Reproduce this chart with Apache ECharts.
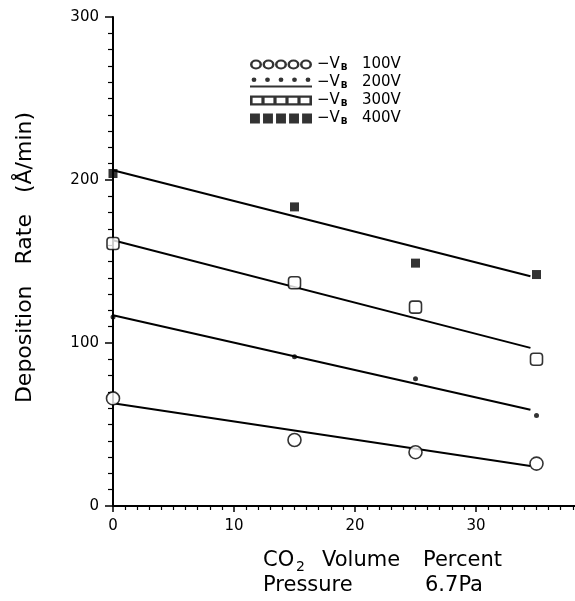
<!DOCTYPE html>
<html>
<head>
<meta charset="utf-8">
<script src="https://cdn.jsdelivr.net/npm/echarts@6/dist/echarts.min.js"></script>
<style>
  html, body { margin: 0; padding: 0; background: #fff; }
  #chart { width: 575px; height: 601px; }
</style>
</head>
<body>
<div id="chart"></div>
<script>
// CO2 volume percent where points were measured
var co2Pct = [0, 15, 25, 35];
// deposition rate (A/min) per bias voltage
var rate100 = [66, 40.5, 33, 26];
var rate200 = [116, 91.5, 78, 55.5];
var rate300 = [161, 137, 122, 90];
var rate400 = [204, 183.5, 149, 142];
// straight fitted lines, start and end
var fitX = [0, 34.5];
var fit100 = [63, 24.5];
var fit200 = [117, 59];
var fit300 = [163, 97];
var fit400 = [206, 141];
var seriesNames = ['100V', '200V', '300V', '400V'];

function pairs(xs, ys) {
    return xs.map(function(x, i) { return [x, ys[i]]; });
}

function circ(cx, cy, r, sweep) {
    return 'M' + (cx + r) + ' ' + cy + 'A' + r + ' ' + r + ' 0 1 ' + sweep + ' ' + (cx - r) + ' ' + cy +
        'A' + r + ' ' + r + ' 0 1 ' + sweep + ' ' + (cx + r) + ' ' + cy + 'Z';
}
// legend icons: five marks in a row, like the original key
function ringsPath() {
    var p = '';
    for (var i = 0; i < 5; i++) {
        var cx = 6 + i * 12.5;
        p += circ(cx, 6, 6, 1) + circ(cx, 6, 3.5, 0);
    }
    return 'path://' + p;
}
function dotsPath() {
    var p = '';
    for (var i = 0; i < 5; i++) {
        p += circ(4 + i * 13.5, 4, 2.4, 1);
    }
    p += 'M0 10L62 10L62 12L0 12Z';
    return 'path://' + p;
}
function squaresPath() {
    var p = '';
    for (var i = 0; i < 5; i++) {
        var x0 = i * 12;
        p += 'M' + x0 + ' 0L' + (x0 + 14) + ' 0L' + (x0 + 14) + ' 12L' + x0 + ' 12Z';
        p += 'M' + (x0 + 2.6) + ' 2.6L' + (x0 + 2.6) + ' 9.4L' + (x0 + 11.4) + ' 9.4L' + (x0 + 11.4) + ' 2.6Z';
    }
    return 'path://' + p;
}
function blocksPath() {
    var p = '';
    for (var i = 0; i < 5; i++) {
        var x0 = i * 12.6;
        p += 'M' + x0 + ' 0L' + (x0 + 9.6) + ' 0L' + (x0 + 9.6) + ' 12L' + x0 + ' 12Z';
    }
    return 'path://' + p;
}

var fontFam = 'DejaVu Sans';
var chart = echarts.init(document.getElementById('chart'));

var pointStyle = { color: '#fff', borderColor: '#000', borderWidth: 1.6 };
var lineStyle = { color: '#000', width: 2 };

function label(txt, x, y, size) {
    return {
        type: 'text', x: x, y: y,
        style: { text: txt, fontFamily: fontFam, fontSize: size, fill: '#000', verticalAlign: 'middle' }
    };
}

chart.setOption({
    backgroundColor: '#fff',
    animation: false,
    // axis runs on past the right edge, as in the scan
    grid: { left: 113, top: 17, width: 484, height: 489, outerBoundsMode: 'none', containLabel: false },
    legend: {
        orient: 'vertical',
        left: 245,
        top: 52,
        itemWidth: 62,
        itemHeight: 10,
        itemGap: 3,
        symbolKeepAspect: false,
        selectedMode: false,
        itemStyle: { color: '#000', borderWidth: 0 },
        data: [
            { name: '100V', icon: ringsPath() },
            { name: '200V', icon: dotsPath() },
            { name: '300V', icon: squaresPath() },
            { name: '400V', icon: blocksPath() }
        ],
        formatter: function(name) {
            return '{n|−V}{s|B}{n|   ' + name + '}';
        },
        textStyle: {
            fontFamily: fontFam,
            color: '#000',
            rich: {
                n: { fontFamily: fontFam, fontSize: 15, color: '#000', lineHeight: 15 },
                s: { fontFamily: fontFam, fontSize: 9, fontWeight: 'bold', color: '#000', lineHeight: 9, verticalAlign: 'bottom', padding: [0, 0, 0, 1] }
            }
        }
    },
    xAxis: {
        type: 'value',
        min: 0,
        max: 40,
        interval: 10,
        axisLine: { show: true, onZero: false, lineStyle: { color: '#000', width: 2 } },
        axisTick: { show: true, length: 6, lineStyle: { color: '#000', width: 1.5 } },
        minorTick: { show: true, splitNumber: 10, length: 4, lineStyle: { color: '#000', width: 1.2 } },
        splitLine: { show: false },
        axisLabel: { color: '#000', fontFamily: fontFam, fontSize: 15, margin: 13 }
    },
    yAxis: {
        type: 'value',
        min: 0,
        max: 300,
        interval: 100,
        name: 'Deposition   Rate   (Å/min)',
        nameLocation: 'middle',
        nameRotate: 90,
        nameGap: 77,
        nameTextStyle: { color: '#000', fontFamily: fontFam, fontSize: 22, padding: [0, 0, 0, 8] },
        axisLine: { show: true, lineStyle: { color: '#000', width: 2 } },
        axisTick: { show: true, length: 8, lineStyle: { color: '#000', width: 1.5 } },
        minorTick: { show: true, splitNumber: 10, length: 5, lineStyle: { color: '#000', width: 1.2 } },
        splitLine: { show: false },
        axisLabel: { color: '#000', fontFamily: fontFam, fontSize: 15, margin: 14 }
    },
    graphic: [
        label('CO', 263, 561, 21),
        label('2', 296, 567, 14),
        label('Volume', 322, 561, 21),
        label('Percent', 423, 561, 21),
        label('Pressure', 263, 586, 21),
        label('6.7Pa', 425, 586, 21)
    ],
    series: [
        { name: '100 fit', type: 'line', data: pairs(fitX, fit100), symbol: 'none', lineStyle: lineStyle, z: 1 },
        { name: '200 fit', type: 'line', data: pairs(fitX, fit200), symbol: 'none', lineStyle: lineStyle, z: 1 },
        { name: '300 fit', type: 'line', data: pairs(fitX, fit300), symbol: 'none', lineStyle: lineStyle, z: 1 },
        { name: '400 fit', type: 'line', data: pairs(fitX, fit400), symbol: 'none', lineStyle: lineStyle, z: 1 },
        { name: seriesNames[0], type: 'scatter', data: pairs(co2Pct, rate100), symbol: 'circle', symbolSize: 13, itemStyle: pointStyle, z: 3 },
        { name: seriesNames[1], type: 'scatter', data: pairs(co2Pct, rate200), symbol: 'circle', symbolSize: 5, itemStyle: { color: '#000' }, z: 3 },
        { name: seriesNames[2], type: 'scatter', data: pairs(co2Pct, rate300), symbol: 'roundRect', symbolSize: 12, itemStyle: pointStyle, z: 3 },
        { name: seriesNames[3], type: 'scatter', data: pairs(co2Pct, rate400), symbol: 'rect', symbolSize: 9, itemStyle: { color: '#000' }, z: 3 }
    ]
});
</script>
</body>
</html>
